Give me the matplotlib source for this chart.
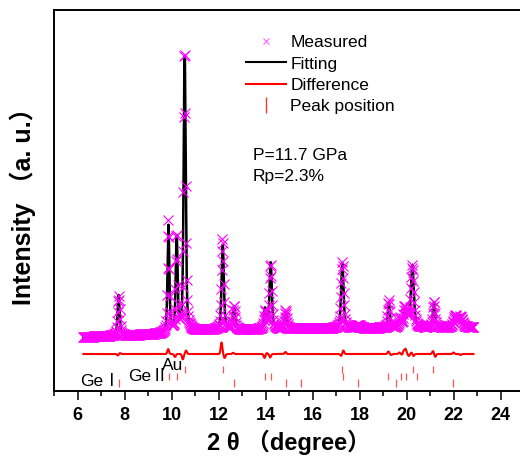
import numpy as np
import matplotlib
matplotlib.use("Agg")
import matplotlib.pyplot as plt
from matplotlib.lines import Line2D
from matplotlib.ticker import MultipleLocator

plt.rcParams['font.family'] = ['Liberation Sans', 'Noto Sans CJK SC', 'DejaVu Sans']

# Refined profile: peak positions (2theta), heights above background and widths
peak_pos = [7.75, 9.87, 10.22, 10.56, 12.18, 12.66, 13.98, 14.22, 14.86,
            17.27, 17.95, 19.25, 19.74, 19.92, 20.06, 20.25, 21.17, 22.08, 22.30]
peak_height = [405, 1070, 975, 2840, 870, 230, 205, 680, 165,
               650, 30, 250, 80, 150, 110, 620, 250, 110, 110]
peak_fwhm = [0.10, 0.09, 0.09, 0.10, 0.11, 0.10, 0.10, 0.11, 0.12,
             0.12, 0.2, 0.10, 0.11, 0.11, 0.11, 0.14, 0.11, 0.16, 0.16]

# Background level read along the pattern
bg_pos = [6.25, 9.5, 11.5, 16.0, 22.87]
bg_level = [540, 570, 610, 625, 640]

# Residual (observed - calculated) features
res_pos = [7.72, 7.80, 9.86, 10.15, 10.48, 10.62, 12.13, 12.26, 12.62,
           13.96, 14.05, 14.20, 14.85, 17.22, 17.31, 19.23, 19.35, 19.70,
           19.82, 19.88, 19.96, 20.10, 20.21, 20.30, 21.13, 21.22, 22.00, 22.30]
res_amp = [-15, 10, 50, -30, -55, 35, 115, -40, 12,
           -40, 10, -35, 20, -20, 36, 25, -10, 15,
           -10, 35, 50, -20, 15, -20, 30, -30, 15, -10]

diff_offset = 370

# Calculated reflection positions for each phase
ge1_pos = [7.75, 12.65, 14.86, 15.50, 17.92, 19.55, 21.99]
ge2_pos = [9.89, 10.22, 13.97, 14.22, 17.31, 19.23, 19.78, 19.97, 20.46]
au_pos = [10.56, 12.18, 17.25, 20.26, 21.14]

x_start, x_end, x_step = 6.25, 22.87, 0.02


def pseudo_voigt(x, x0, h, w, eta=0.5):
    g = np.exp(-4 * np.log(2) * (x - x0) ** 2 / w ** 2)
    l = 1.0 / (1.0 + 4 * (x - x0) ** 2 / w ** 2)
    return h * (eta * l + (1 - eta) * g)


tt = np.arange(x_start, x_end, x_step)
calc = np.interp(tt, bg_pos, bg_level)
for p, h, w in zip(peak_pos, peak_height, peak_fwhm):
    calc = calc + pseudo_voigt(tt, p, h, w)
resid = np.zeros_like(tt)
for p, a in zip(res_pos, res_amp):
    resid = resid + a * np.exp(-0.5 * ((tt - p) / 0.035) ** 2)
obs = calc + resid

fig = plt.figure(figsize=(5.2, 4.57), dpi=100)
ax = fig.add_axes([54 / 520, 66 / 457, 470 / 520, 381 / 457])

ax.plot(tt, calc, color='black', lw=1.8, zorder=2)
ax.plot(tt, obs, ls='none', marker='x', ms=7.5, mew=0.8, color='#FF00FF', zorder=3)
ax.plot(tt, resid + diff_offset, color='#FF0000', lw=1.5, zorder=2)

tick_kw = dict(color='#FF5555', lw=0.9)
ax.vlines(ge1_pos, 40, 120, **tick_kw)
ax.vlines(ge2_pos, 110, 180, **tick_kw)
ax.vlines(au_pos, 180, 250, **tick_kw)

lab_kw = dict(fontsize=12.5, va='center', ha='left')
ax.text(6.12, 90, 'GeⅠ', **lab_kw)
ax.text(8.15, 145, 'GeⅡ', **lab_kw)
ax.text(9.6, 255, 'Au', **lab_kw)

handles = [
    Line2D([], [], ls='none', marker='x', ms=4, mew=0.8, color='#FF66FF'),
    Line2D([], [], color='black', lw=1.5),
    Line2D([], [], color='#FF0000', lw=1.5),
    Line2D([], [], ls='none', marker='|', ms=12, mew=1.0, color='#FF3333'),
]
labels = ['Measured', 'Fitting', 'Difference', 'Peak position']
ax.legend(handles, labels, loc='upper left', bbox_to_anchor=(0.4085, 0.934),
          frameon=False, fontsize=12.5, handlelength=2.3, handletextpad=0.25,
          labelspacing=0.35, borderpad=0, borderaxespad=0)

ax.text(0.423, 0.617, 'P=11.7 GPa', transform=ax.transAxes, fontsize=12.5, va='center')
ax.text(0.423, 0.564, 'Rp=2.3%', transform=ax.transAxes, fontsize=12.5, va='center')

ax.set_xlim(5, 25)
ax.set_ylim(0, 3810)
ax.xaxis.set_major_locator(MultipleLocator(2))
ax.xaxis.set_minor_locator(MultipleLocator(1))
ax.set_yticks([])
ax.tick_params(axis='x', which='major', direction='out', length=6.5, width=1.1,
               labelsize=13, pad=5)
ax.tick_params(axis='x', which='minor', direction='out', length=3.6, width=1.1)
for lbl in ax.get_xticklabels():
    lbl.set_fontweight('bold')
for side in ['left', 'bottom', 'top']:
    ax.spines[side].set_linewidth(1.4)
ax.spines['right'].set_visible(False)

ax.set_xlabel('2 θ （degree）', fontsize=17, fontweight='bold', labelpad=4)
ax.set_ylabel('Intensity （a. u.）', fontsize=18, fontweight='bold', labelpad=13)

fig.savefig('out.png', dpi=100)
